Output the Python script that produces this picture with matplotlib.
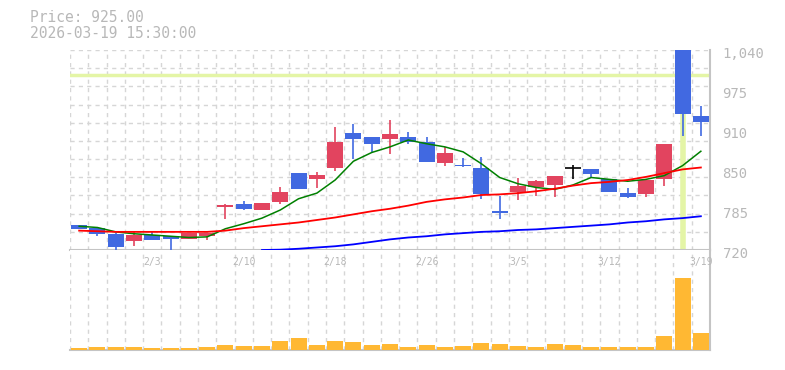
import matplotlib
matplotlib.use("Agg")
import matplotlib.pyplot as plt
import matplotlib.transforms as mtransforms
import numpy as np

# trading days shown (1/28 .. 3/19)
dates = ["1/28", "1/29", "1/30", "2/2", "2/3", "2/4", "2/5", "2/6", "2/9", "2/10",
         "2/12", "2/13", "2/16", "2/17", "2/18", "2/19", "2/20", "2/24", "2/25", "2/26",
         "2/27", "3/2", "3/3", "3/4", "3/5", "3/6", "3/9", "3/10", "3/11", "3/12",
         "3/13", "3/16", "3/17", "3/18", "3/19"]

opens = [760, 755, 746, 735, 744, 742, 738, 742, 789, 794,
         784, 797, 844, 834, 851, 908, 901, 898, 901, 893,
         860, 856, 851, 783, 813, 821, 824, 851, 850, 834,
         811, 810, 834, 1060, 934]
highs = [760, 755, 747, 750, 750, 742, 748, 747, 794, 799,
         795, 821, 844, 845, 917, 922, 901, 928, 909, 901,
         885, 867, 869, 806, 835, 832, 838, 856, 850, 834,
         819, 832, 890, 1060, 950]
lows = [754, 743, 719, 727, 736, 719, 738, 736, 770, 784,
        784, 794, 818, 819, 847, 866, 875, 874, 890, 861,
        855, 853, 802, 770, 800, 806, 805, 834, 836, 813,
        803, 805, 823, 903, 903]
closes = [754, 746, 725, 744, 736, 738, 747, 747, 792, 786,
          795, 813, 818, 840, 893, 898, 890, 906, 893, 861,
          875, 854, 810, 780, 822, 830, 838, 851, 842, 813,
          805, 832, 890, 938, 925]

# moving average lines
ma_short = [758, 756, 749, 746, 744, 742, 740, 741, 754, 762,
            771, 784, 802, 811, 832, 862, 876, 885, 896, 890,
            885, 877, 858, 836, 826, 820, 817, 824, 836, 833,
            830, 833, 839, 855, 878]
ma_mid = [751, 750, 749, 749, 749, 749, 749, 749, 751, 755,
          758, 761, 764, 768, 772, 777, 782, 786, 791, 797,
          801, 804, 808, 809, 811, 814, 818, 823, 827, 829,
          832, 837, 843, 849, 852]
ma_long = [None] * 10 + [720, 720.5, 722, 724, 726, 729, 733, 737, 740, 742,
                         745, 747, 749, 750, 752, 753, 755, 757, 759, 761,
                         764, 766, 769, 771, 774]

# volume (thousand shares)
volumes = [70, 100, 100, 100, 70, 70, 70, 100, 160, 130,
           130, 280, 370, 160, 280, 250, 160, 190, 100, 160,
           100, 130, 220, 190, 130, 100, 190, 160, 100, 100,
           100, 100, 430, 2140, 520]

price_ticks = [720, 784, 848, 912, 976, 1040]
price_labels = ["720", "785", "850", "910", "975", "1,040"]
last_price = "925.00"
last_time = "2026-03-19 15:30:00"
hline_price = 1000
vline_idx = 33

UP = "#e2445f"
DOWN = "#4169e1"
GRID = "#d6d6d6"
AXIS = "#c4c4c4"
TEXT = "#b8b8b8"
HILITE = "#e4f5a6"

W, H = 785, 370
fig = plt.figure(figsize=(W / 100, H / 100), dpi=100)
ax = fig.add_axes([70 / W, 1 - 250 / H, 640 / W, 200 / H])
axv = fig.add_axes([70 / W, 1 - 350 / H, 640 / W, 100 / H])

n = len(dates)
x = np.arange(n)
o = np.array(opens, float)
c = np.array(closes, float)
hi = np.array(highs, float)
lo = np.array(lows, float)

for a in (ax, axv):
    a.set_xlim(-0.5, n - 0.5)
    for b in np.arange(n + 1) - 0.5:
        a.axvline(b, color=GRID, lw=1, ls=(0, (3, 3)), zorder=0)
    for s in ("top", "left"):
        a.spines[s].set_visible(False)
    for s in ("bottom", "right"):
        a.spines[s].set_color(AXIS)
        a.spines[s].set_linewidth(1.5)
    a.set_xticks([])
    a.tick_params(length=0)

ax.set_ylim(720, 1040)
for g in np.linspace(720, 1040, 12):
    ax.axhline(g, color=GRID, lw=1, ls=(0, (3, 3)), zorder=0)

ax.axhline(hline_price, color=HILITE, lw=2.5, zorder=1)
ax.axvline(vline_idx, color=HILITE, lw=4, zorder=1)

# candles
cols = []
for i in range(n):
    if c[i] > o[i]:
        cols.append(UP)
    elif c[i] < o[i]:
        cols.append(DOWN)
    else:
        cols.append("black")
ax.vlines(x, lo, hi, colors=cols, lw=1.2, zorder=3)
body = np.maximum(np.abs(c - o), 0.01)
ax.bar(x, body, bottom=np.minimum(o, c), width=0.875, color=cols, zorder=4)
for i in range(n):
    if c[i] == o[i]:
        ax.hlines(c[i], i - 0.44, i + 0.44, colors="black", lw=1.2, zorder=4)

ax.plot(x, ma_short, color="#008000", lw=1.1, zorder=5)
ax.plot(x, ma_mid, color="#ff0000", lw=1.3, zorder=5)
ml = np.array([np.nan if v is None else v for v in ma_long], float)
ax.plot(x, ml, color="#0000ff", lw=1.3, zorder=5)

ax.yaxis.tick_right()
ax.set_yticks(price_ticks)
ax.set_yticklabels(price_labels)
ax.tick_params(axis="y", pad=9, labelcolor=TEXT, labelsize=10)
shift = mtransforms.ScaledTranslation(0, -3 / 100, fig.dpi_scale_trans)
for t in ax.get_yticklabels():
    t.set_family("DejaVu Sans Mono")
    t.set_transform(t.get_transform() + shift)

# volume
axv.bar(x, volumes, width=0.875, color="#ffb833", zorder=3)
axv.set_ylim(0, 2980)
axv.set_yticks([])
for i in range(4, n, 5):
    axv.text(i, 0.88, dates[i], transform=axv.get_xaxis_transform(),
             ha="center", va="center", color=TEXT, fontsize=7,
             family="DejaVu Sans Mono", zorder=6)

fig.text(30 / W, 1 - 18 / H, "Price: " + last_price, ha="left", va="center",
         color=TEXT, fontsize=10.5, family="DejaVu Sans Mono")
fig.text(30 / W, 1 - 33 / H, last_time, ha="left", va="center",
         color=TEXT, fontsize=10.5, family="DejaVu Sans Mono")

fig.savefig("out.png", dpi=100)
